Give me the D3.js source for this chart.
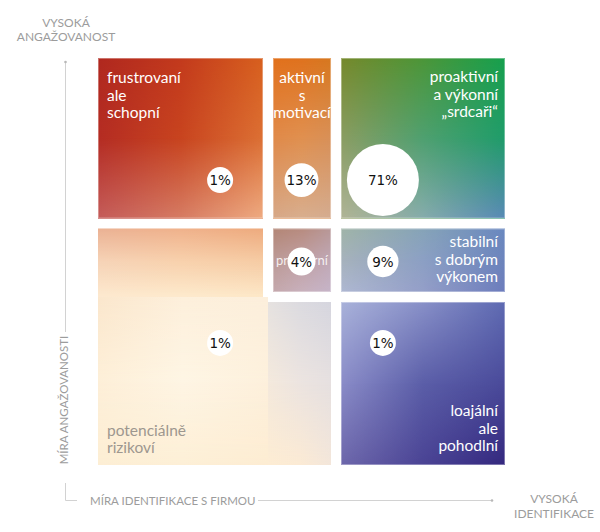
<!DOCTYPE html>
<html><head><meta charset="utf-8">
<script src="https://cdn.jsdelivr.net/npm/d3@7"></script>
<style>body{margin:0;background:#fff}svg{display:block}</style>
</head><body><svg id="chart" width="600" height="532"></svg>
<script>
// ---------------- DATA ----------------
const engagementLevels = ["vysoká", "střední", "nízká"];        // rows, top -> bottom
const identificationLevels = ["nízká", "střední", "vysoká"];    // columns, left -> right

const cellEngagement     = ["vysoká","vysoká","vysoká","střední","střední","střední","nízká","nízká","nízká"];
const cellIdentification = ["nízká","střední","vysoká","nízká","střední","vysoká","nízká","střední","vysoká"];
const cellLabels = [
  ["frustrovaní","ale","schopní"],
  ["aktivní","s","motivací"],
  ["proaktivní","a výkonní","„srdcaři“"],
  [],
  ["průměrní"],
  ["stabilní","s dobrým","výkonem"],
  ["potenciálně","rizikoví"],
  [],
  ["loajální","ale","pohodlní"]
];

const bubbleEngagement     = ["vysoká","vysoká","vysoká","střední","střední","nízká","nízká"];
const bubbleIdentification = ["nízká","střední","vysoká","střední","vysoká","nízká","vysoká"];
const bubbleShare          = [1, 13, 71, 4, 9, 1, 1];

const axisYTitle = "MÍRA ANGAŽOVANOSTI";
const axisXTitle = "MÍRA IDENTIFIKACE S FIRMOU";
const topLabel   = ["VYSOKÁ", "ANGAŽOVANOST"];
const rightLabel = ["VYSOKÁ", "IDENTIFIKACE"];

// ---------------- STYLE / LAYOUT ----------------
const cellColors = [ // 3x3 colour grid per cell: [top row],[middle row],[bottom row]
  [["#b0281f","#c33a1d","#d8601e"],["#b42c23","#c8441f","#dc7034"],["#c45c5a","#d67c64","#eeab82"]],
  [["#e2711c","#df721e","#d7781f"],["#e08a4a","#e09050","#d89058"],["#d6a888","#d8ae8e","#d4ac90"]],
  [["#76892c","#4c9638","#16a04e"],["#8a9d62","#4fa070","#1f9c6a"],["#b0b496","#86acac","#5889b6"]],
  [["#ebb294","#f0b28c","#eeab7e"],["#f6d4b8","#f8d2ae","#f6cda6"],["#fde9cf","#fdeacd","#fde8c8"]],
  [["#b38676","#b88c80","#b89898"],["#bc9a96","#c0a0a4","#c0a8b6"],["#c4a8ac","#c8b0bc","#c6b4c8"]],
  [["#a0b4a8","#86a4b8","#6a88c0"],["#a6b2bc","#8ca0c4","#6c84bc"],["#aeb8d2","#949ec8","#6c7cbc"]],
  [["#fbe7cd","#fdf0dc","#fcefdc"],["#fdefd8","#fef5e4","#fdf0dc"],["#fdeed4","#fdefd6","#fdecd2"]],
  [["#e6e2e0","#dcdbe0","#d6d6df"],["#f4e9dc","#ece4e0","#e6e0e0"],["#fdecd3","#fbead4","#f3e6da"]],
  [["#a9b2da","#8890c8","#5e6ab2"],["#8a8cc8","#5b5ea8","#4a4a9a"],["#6c66aa","#4a4394","#34287e"]]
];
const labelStyle = [
  {anchor:"start",  v:"top", dy:25, fill:"#fff", size:15.5},
  {anchor:"middle", v:"top", dy:25, fill:"#fff", size:15.5},
  {anchor:"end",    v:"top", dy:24, fill:"#fff", size:15.5},
  null,
  {anchor:"middle", v:"mid", dy:5,  fill:"rgba(255,255,255,0.85)", size:13},
  {anchor:"end",    v:"top", dy:19, fill:"#fff", size:15.5},
  {anchor:"start",  v:"bottom", dy:12, fill:"#9d978f", size:15.5},
  null,
  {anchor:"end",    v:"bottom", dy:14, fill:"#fff", size:15.5}
];
const joinSides = {3:["bottom"], 6:["top","right"], 7:["left"]};
const colEdges = [0, 0.4177, 0.5848, 1];
const rowEdges = [0, 0.4066, 0.5872, 1];
const halfGap = 5;
const lineH = 17.5;
const labelFont = "Lato, 'Open Sans', sans-serif";
const axisFont = "Lato, 'Open Sans', sans-serif";

const svg = d3.select("#chart");
const x = d3.scaleLinear().domain([0,1]).range([98,505]);
const y = d3.scaleLinear().domain([0,1]).range([58,465]);
const colIdx = d3.scaleOrdinal().domain(identificationLevels).range([0,1,2]);
const rowIdx = d3.scaleOrdinal().domain(engagementLevels).range([0,1,2]);
const bx = d3.scalePoint().domain(identificationLevels).range([x(0.3), x(0.7)]);
const by = d3.scalePoint().domain(engagementLevels).range([y(0.3), y(0.7)]);
const rScale = d3.scaleLinear().domain([1,71]).range([13,36]);

const defs = svg.append("defs");
function vMask(id, stops){
  const g = defs.append("linearGradient").attr("id", id+"-g").attr("x1",0).attr("y1",0).attr("x2",0).attr("y2",1);
  stops.forEach(s => g.append("stop").attr("offset", s[0]).attr("stop-color", s[1]));
  defs.append("mask").attr("id", id).attr("maskContentUnits","objectBoundingBox")
    .append("rect").attr("x",0).attr("y",0).attr("width",1).attr("height",1).attr("fill",`url(#${id}-g)`);
}
vMask("mMid", [[0,"#000"],[0.5,"#fff"],[1,"#fff"]]);
vMask("mBot", [[0,"#000"],[0.5,"#000"],[1,"#fff"]]);

const cells = cellEngagement.map((e,i) => {
  const r = rowIdx(e), c = colIdx(cellIdentification[i]);
  const j = joinSides[i] || [];
  const x0 = x(colEdges[c]) + (c>0 && !j.includes("left") ? halfGap : 0);
  const x1 = x(colEdges[c+1]) - (c<2 && !j.includes("right") ? halfGap : 0);
  const y0 = y(rowEdges[r]) + (r>0 && !j.includes("top") ? halfGap : 0);
  const y1 = y(rowEdges[r+1]) - (r<2 && !j.includes("bottom") ? halfGap : 0);
  return {i, x0, x1, y0, y1, labels: cellLabels[i]};
});

const cellG = svg.append("g");
cells.forEach(d => {
  const rows = cellColors[d.i];
  ["t","m","b"].forEach((k,ri) => {
    const g = defs.append("linearGradient").attr("id",`c${d.i}${k}`).attr("x1",0).attr("x2",1).attr("y1",0).attr("y2",0);
    rows[ri].forEach((col,ci) => g.append("stop").attr("offset", ci/2).attr("stop-color", col));
  });
  const add = (k, mask) => {
    const rct = cellG.append("rect").attr("x", d.x0).attr("y", d.y0)
      .attr("width", d.x1-d.x0).attr("height", d.y1-d.y0).attr("fill", `url(#c${d.i}${k})`);
    if (mask) rct.attr("mask", `url(#${mask})`);
  };
  add("t"); add("m","mMid"); add("b","mBot");
});
cellG.selectAll("rect.border").data(cells.filter(d => ![3,6,7].includes(d.i))).join("rect")
  .attr("class","border").attr("x", d=>d.x0+0.5).attr("y", d=>d.y0+0.5)
  .attr("width", d=>d.x1-d.x0-1).attr("height", d=>d.y1-d.y0-1)
  .attr("fill","none").attr("stroke","rgba(255,255,255,0.35)").attr("stroke-width",1);

// cell labels
const labG = svg.append("g").attr("font-family", labelFont);
cells.forEach(d => {
  const st = labelStyle[d.i];
  if (!st || !d.labels.length) return;
  const tx = st.anchor==="start" ? d.x0+9 : st.anchor==="end" ? d.x1-7 : (d.x0+d.x1)/2;
  let ty0;
  if (st.v==="top") ty0 = d.y0 + st.dy;
  else if (st.v==="bottom") ty0 = d.y1 - st.dy - (d.labels.length-1)*lineH;
  else ty0 = (d.y0+d.y1)/2 + st.dy;
  d.labels.forEach((t,k) => {
    labG.append("text").attr("x", tx).attr("y", ty0 + k*lineH).attr("font-size", st.size)
      .attr("text-anchor", st.anchor).attr("fill", st.fill).text(t);
  });
});

// bubbles
const bubbles = bubbleShare.map((v,i) => ({v, cx: bx(bubbleIdentification[i]), cy: by(bubbleEngagement[i])}));
const bG = svg.append("g");
bG.selectAll("circle").data(bubbles).join("circle")
  .attr("cx", d=>d.cx).attr("cy", d=>d.cy).attr("r", d=>rScale(d.v)).attr("fill","#fff");
bG.selectAll("text").data(bubbles).join("text")
  .attr("x", d=>d.cx).attr("y", d=>d.cy+5).attr("text-anchor","middle")
  .attr("font-family","'DejaVu Sans', Verdana, sans-serif").attr("font-size",13.5).attr("fill","#111")
  .text(d => d.v + "%");

// axes
const axG = svg.append("g").attr("stroke","#d2d2d2").attr("stroke-width",1).attr("fill","none");
axG.append("line").attr("x1",65.5).attr("x2",65.5).attr("y1",61).attr("y2",332);
axG.append("path").attr("d","M65.5,483V500.5H77");
axG.append("line").attr("x1",258).attr("x2",492).attr("y1",500.5).attr("y2",500.5);
svg.append("circle").attr("cx",65.5).attr("cy",62).attr("r",1.3).attr("fill","#b8b8b8");
svg.append("circle").attr("cx",492).attr("cy",500.5).attr("r",1.3).attr("fill","#b8b8b8");

const txtG = svg.append("g").attr("font-family", axisFont).attr("fill","#9c9c9c").attr("font-size",12);
txtG.append("text").attr("transform","translate(68,400) rotate(-90)").attr("text-anchor","middle").attr("font-size",11.5).text(axisYTitle);
txtG.append("text").attr("x",90).attr("y",504.5).attr("font-size",11.5).text(axisXTitle);
topLabel.forEach((t,k) => txtG.append("text").attr("x",66).attr("y",27+k*13.5).attr("text-anchor","middle").text(t));
rightLabel.forEach((t,k) => txtG.append("text").attr("x",554).attr("y",503+k*15).attr("text-anchor","middle").text(t));
</script></body></html>
